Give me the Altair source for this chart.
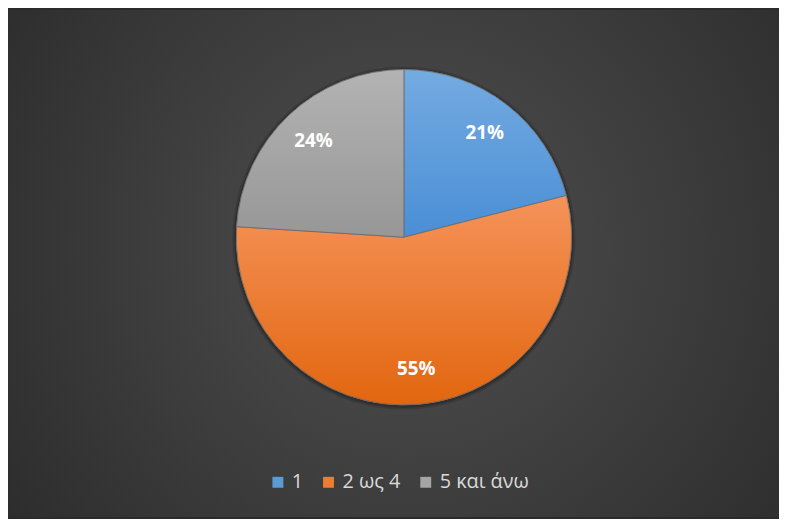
import altair as alt
import pandas as pd

# ---- data ----
categories = ["1", "2 ως 4", "5 και άνω"]
values = [21, 55, 24]
labels = ["21%", "55%", "24%"]
order = [0, 1, 2]

# ---- styles ----
colors = ["#5b9bd5", "#ed7d31", "#a5a5a5"]
grad_top = ["#74abe1", "#f5935a", "#b3b3b3"]
grad_bot = ["#4a8ed6", "#e2660f", "#979797"]

W, H = 777, 511
CX, CY = 399, 229
R = 169
TWO_PI = 6.283185307179586

df = pd.DataFrame({"cat": categories, "value": values, "label": labels, "order": order})
one = pd.DataFrame({"a": [0]})

theta_scale = alt.Scale(domain=[0, 100], range=[0, TWO_PI])

base = alt.Chart(df).transform_window(
    end="sum(value)", sort=[alt.SortField("order")], frame=[None, 0]
).transform_calculate(
    start="datum.end - datum.value", mid="datum.end - datum.value / 2"
)

bg = alt.Chart(one).mark_rect(
    fill=alt.RadialGradient(
        gradient="radial", x1=0.52, y1=0.48, r1=0, x2=0.52, y2=0.48, r2=0.75,
        stops=[alt.GradientStop(offset=0, color="#505050"),
               alt.GradientStop(offset=1, color="#262626")]
    )
).encode(x=alt.value(0), x2=alt.value(W), y=alt.value(0), y2=alt.value(H))

shadow1 = alt.Chart(one).mark_arc(
    radius=R + 4, theta=0, theta2=TWO_PI, fill="black", opacity=0.12
).encode(x=alt.value(CX), y=alt.value(CY + 1))
shadow2 = alt.Chart(one).mark_arc(
    radius=R + 2, theta=0, theta2=TWO_PI, fill="black", opacity=0.2
).encode(x=alt.value(CX), y=alt.value(CY + 1))

pie = base.mark_arc(radius=R, stroke="#6a6a6a", strokeWidth=0.8).encode(
    theta=alt.Theta("start:Q", scale=theta_scale, stack=None),
    theta2="end:Q",
    color=alt.Color(
        "cat:N",
        scale=alt.Scale(domain=categories, range=colors),
        sort=categories,
        legend=alt.Legend(
            title=None, orient="none", legendX=262, legendY=466,
            direction="horizontal", symbolType="square", symbolSize=121,
            symbolStrokeWidth=0, labelColor="#d9d9d9", labelFontSize=20,
            labelFont="Open Sans", labelOffset=4, columnPadding=15,
        ),
    ),
    x=alt.value(CX), y=alt.value(CY),
)

overlays = []
for i, c in enumerate(categories):
    ov = base.transform_filter(alt.datum.cat == c).mark_arc(
        radius=R, stroke="#6a6a6a", strokeWidth=0.8,
        fill=alt.LinearGradient(
            gradient="linear", x1=0, y1=0, x2=0, y2=1,
            stops=[alt.GradientStop(offset=0, color=grad_top[i]),
                   alt.GradientStop(offset=1, color=grad_bot[i])]
        ),
    ).encode(
        theta=alt.Theta("start:Q", scale=theta_scale, stack=None),
        theta2="end:Q",
        x=alt.value(CX), y=alt.value(CY),
    )
    overlays.append(ov)

text = base.mark_text(
    font="Open Sans", fontWeight="bold", fontSize=19, color="white"
).encode(
    theta=alt.Theta("mid:Q", scale=theta_scale, stack=None),
    radius=alt.value(133),
    text="label:N",
    x=alt.value(CX), y=alt.value(CY),
)

chart = alt.layer(bg, shadow1, shadow2, pie, *overlays, text).properties(
    width=W, height=H, padding=0, background="#2b2b2b"
).configure_view(stroke=None)

chart.save("out.html", embed_options={"renderer": "svg", "actions": False})
